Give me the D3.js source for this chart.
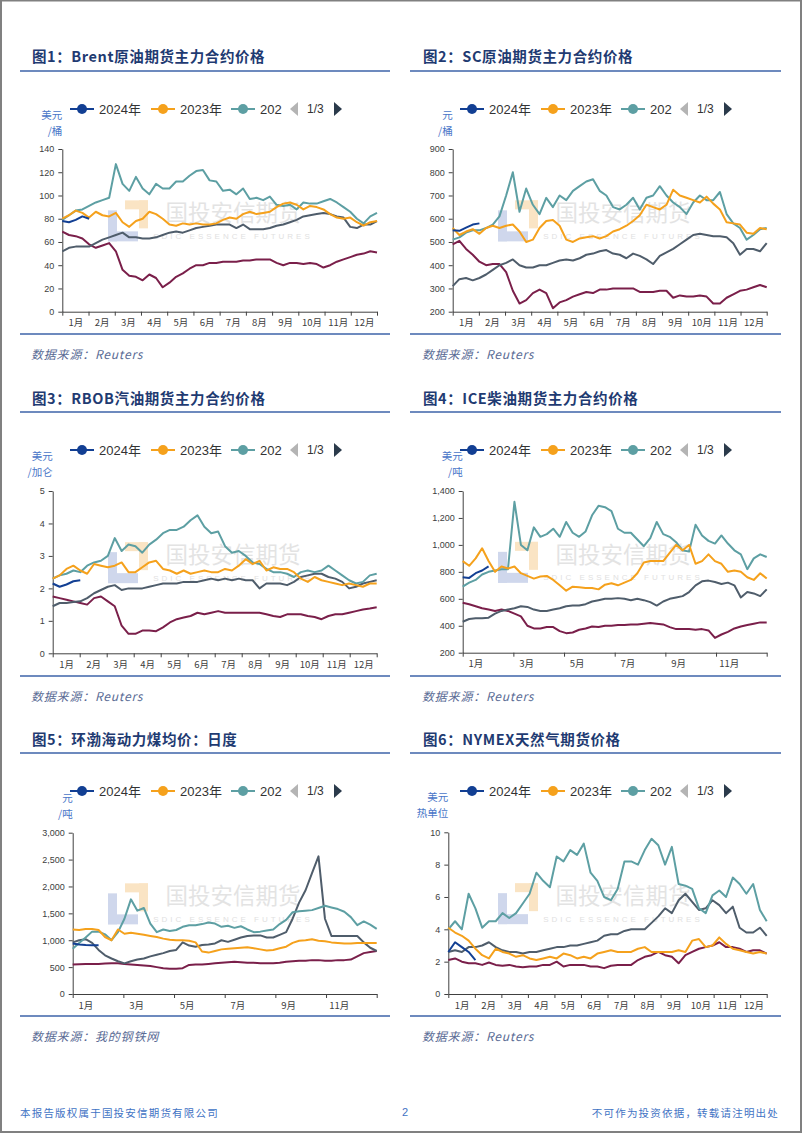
<!DOCTYPE html>
<html><head><meta charset="utf-8">
<script src="https://cdn.jsdelivr.net/npm/d3@7/dist/d3.min.js"></script>
<style>
html,body{margin:0;padding:0;background:#fff;}
svg{display:block;}
</style></head><body>
<svg id="page" width="802" height="1133"></svg>
<script>
// ---------- data ----------
const legendLabels = ["2024年", "2023年", "202"];
const seriesYears = ["2020", "2021", "2022", "2023", "2024"];
const monthLabels = ["1月","2月","3月","4月","5月","6月","7月","8月","9月","10月","11月","12月"];
const bimonthLabels = ["1月","3月","5月","7月","9月","11月"];

const brentTicks = [0,20,40,60,80,100,120,140];
const scTicks = [200,300,400,500,600,700,800,900];
const rbobTicks = [0,1,2,3,4,5];
const iceTicks = [200,400,600,800,1000,1200,1400];
const coalTicks = [0,500,1000,1500,2000,2500,3000];
const gasTicks = [0,2,4,6,8,10];

const brent2024 = [78,77,79,82,80];
const brent2023 = [80,83,87,85,81,86,83,82,85,77,73,78,80,86,84,80,75,74,76,75,76,75,75,76,79,81,80,84,86,84,85,86,90,93,94,92,88,91,90,88,84,81,80,81,77,74,77,78];
const brent2022 = [79,83,87,88,91,94,96,98,127,110,104,116,106,101,110,106,106,112,112,117,121,122,113,112,104,105,101,106,97,98,96,99,92,91,92,88,94,93,93,95,97,94,90,86,80,76,82,85];
const brent2021 = [52,55,56,56,56,59,62,64,66,68,64,64,63,63,64,66,68,69,68,70,72,73,74,75,75,75,72,75,71,71,71,72,74,75,77,79,82,83,84,85,84,82,81,73,72,75,75,78];
const brent2020 = [69,66,65,63,58,55,57,59,52,36,31,30,27,32,29,21,25,30,33,37,40,40,42,42,43,43,43,44,44,45,45,45,42,40,42,42,41,42,41,38,40,43,45,47,49,50,52,51];

const sc2024 = [550,548,562,575,580];
const sc2023 = [560,530,545,555,535,560,570,560,570,575,545,500,510,560,590,595,570,510,500,515,520,525,515,525,545,555,570,590,615,660,650,640,660,725,700,690,680,670,695,665,640,585,580,575,540,535,560,555];
const sc2022 = [510,520,540,550,550,560,575,610,700,800,630,730,660,620,690,650,700,680,720,740,760,770,720,700,650,640,660,690,640,690,700,740,700,670,650,620,670,700,680,680,715,620,580,560,510,530,555,560];
const sc2021 = [310,340,345,335,345,360,380,400,410,425,400,390,390,400,400,410,420,425,420,430,445,450,460,465,450,445,430,450,440,425,405,440,455,470,490,510,530,535,530,525,525,520,495,445,470,470,460,495];
const sc2020 = [490,505,470,445,415,400,405,405,370,290,235,250,280,295,280,215,240,250,265,275,285,280,295,295,300,300,300,300,285,285,285,290,290,260,270,265,265,270,265,235,235,260,275,290,295,305,315,305];

const rbob2024 = [2.15,2.05,2.12,2.22,2.25];
const rbob2023 = [2.3,2.4,2.6,2.7,2.55,2.45,2.75,2.7,2.65,2.7,2.8,2.5,2.5,2.65,2.8,2.85,2.6,2.55,2.45,2.55,2.45,2.5,2.55,2.5,2.5,2.6,2.55,2.7,2.9,2.75,2.85,2.55,2.65,2.6,2.6,2.5,2.3,2.2,2.35,2.25,2.2,2.15,2.1,2.15,2.1,2.05,2.15,2.15];
const rbob2022 = [2.3,2.4,2.45,2.55,2.5,2.7,2.8,2.85,3.0,3.55,3.15,3.35,3.3,3.1,3.35,3.5,3.7,3.8,3.8,3.9,4.1,4.25,3.9,3.7,3.75,3.3,3.1,3.15,3.0,2.8,2.75,2.6,2.5,2.5,2.45,2.35,2.5,2.55,2.5,2.55,2.7,2.55,2.4,2.25,2.15,2.2,2.4,2.45];
const rbob2021 = [1.45,1.55,1.55,1.58,1.6,1.7,1.85,1.95,2.05,2.1,1.95,2.0,2.0,2.0,2.05,2.1,2.15,2.15,2.15,2.2,2.2,2.2,2.25,2.3,2.25,2.3,2.25,2.3,2.25,2.25,2.0,2.15,2.15,2.15,2.1,2.2,2.35,2.4,2.45,2.45,2.35,2.3,2.2,2.0,2.05,2.15,2.2,2.25];
const rbob2020 = [1.75,1.7,1.65,1.6,1.55,1.5,1.7,1.75,1.6,1.45,0.85,0.6,0.6,0.7,0.7,0.68,0.8,0.95,1.05,1.1,1.15,1.25,1.2,1.25,1.3,1.25,1.25,1.25,1.25,1.25,1.25,1.2,1.15,1.12,1.2,1.2,1.2,1.15,1.12,1.05,1.15,1.2,1.2,1.25,1.3,1.35,1.38,1.42];

const ice2024 = [760,755,790,810,840];
const ice2023 = [880,845,900,975,880,800,840,825,840,790,770,750,765,770,740,700,660,690,685,680,680,670,705,715,700,720,740,790,870,880,880,880,940,1000,960,1000,860,880,930,880,860,800,810,800,760,740,790,750];
const ice2022 = [690,720,740,780,800,810,820,820,1320,1000,960,1130,1060,1080,1120,1060,1170,1090,1060,1100,1220,1290,1280,1250,1120,1090,1090,1040,990,1050,1170,1080,1060,1020,960,950,1150,1070,1030,1010,1070,1010,960,930,820,900,930,910];
const ice2021 = [430,450,455,455,460,490,510,520,530,545,540,520,510,510,520,530,545,550,550,560,580,590,600,600,605,600,590,600,590,575,550,580,600,610,620,650,700,730,735,725,710,720,700,610,650,640,620,670];
const ice2020 = [570,560,545,530,520,510,520,510,490,470,400,380,380,390,390,360,345,350,370,380,395,390,400,400,405,405,410,410,415,420,415,410,390,375,375,375,370,375,365,310,335,355,380,395,405,415,425,425];

const coal2024 = [940,920,910,905,905];
const coal2023 = [1200,1190,1210,1210,1190,1060,1000,1200,1120,1140,1120,1100,1080,1060,1030,1010,1000,1000,990,960,790,770,800,830,840,850,860,870,850,830,810,820,850,880,950,990,1000,1020,990,980,960,950,940,940,950,950,950,950];
const coal2022 = [840,950,1050,1160,1160,1110,1000,1150,1400,1760,1550,1600,1310,1150,1200,1170,1190,1250,1280,1280,1300,1330,1310,1250,1270,1230,1260,1200,1150,1160,1180,1200,1300,1380,1520,1540,1550,1560,1600,1640,1610,1580,1530,1430,1280,1350,1290,1210];
const coal2021 = [960,1000,1020,950,820,720,660,610,570,610,640,660,700,730,760,800,820,960,900,880,910,920,940,1000,970,1010,1050,1080,1090,1090,1050,1050,1100,1150,1400,1700,1930,2250,2560,1400,1080,1080,1080,1080,1080,960,860,800];
const coal2020 = [550,555,560,560,560,565,570,570,560,550,540,530,520,500,480,470,470,480,540,550,550,560,570,580,590,600,590,580,580,570,570,570,580,600,610,620,620,630,630,620,620,630,630,640,700,760,780,800];

const gas2024 = [2.6,3.2,2.9,2.6,2.1];
const gas2023 = [4.1,3.8,3.6,3.3,2.8,2.4,2.2,2.8,2.6,2.5,2.3,2.4,2.2,2.1,2.2,2.3,2.2,2.5,2.4,2.2,2.3,2.2,2.5,2.6,2.7,2.6,2.6,2.6,2.8,2.9,2.6,2.6,2.6,2.6,2.7,2.6,3.3,3.4,2.9,3.0,3.5,3.1,2.8,2.7,2.6,2.5,2.6,2.5];
const gas2022 = [4.0,4.5,4.0,6.2,5.3,4.1,4.5,4.5,5.0,4.7,5.0,5.6,6.2,7.5,7.0,6.6,8.5,8.2,8.9,8.6,9.3,7.5,7.0,6.0,5.8,6.5,8.2,8.2,8.0,8.9,9.6,9.2,8.0,9.1,6.8,6.7,6.5,5.3,5.0,6.1,6.4,6.0,7.2,6.8,6.2,6.8,5.2,4.5];
const gas2021 = [2.6,2.7,2.6,2.9,2.9,3.0,3.2,2.9,2.7,2.6,2.6,2.5,2.6,2.6,2.7,2.8,2.9,2.9,3.0,3.0,3.1,3.2,3.3,3.6,3.7,3.7,3.9,4.0,4.0,4.0,4.4,4.8,5.3,5.0,5.8,6.2,5.7,5.2,5.3,5.8,5.5,5.0,5.4,4.1,3.8,3.8,4.1,3.6];
const gas2020 = [2.1,2.2,2.0,1.9,1.9,1.8,1.95,1.8,1.75,1.8,1.7,1.65,1.7,1.7,1.8,1.8,2.0,1.7,1.8,1.8,1.8,1.7,1.7,1.6,1.75,1.8,1.8,1.8,2.1,2.3,2.4,2.6,2.4,2.3,1.9,2.4,2.6,2.8,2.9,3.0,3.2,2.9,2.9,2.8,2.6,2.7,2.7,2.5];

// ---------- styles ----------
const seriesColor = {"2024":"#123f93","2023":"#f5a11c","2022":"#5d9fa3","2021":"#4f5d6b","2020":"#7a1f4a"};
const SAMPLES = 47; // intervals across the year for the sampled readings
const FONT = "'Liberation Sans','Noto Sans CJK SC',sans-serif";
const CJK = "'Noto Sans CJK SC','Liberation Sans',sans-serif";

const svg = d3.select("#page");

// page border
svg.append("rect").attr("x",1).attr("y",0.5).attr("width",800).attr("height",1131.5)
  .attr("fill","none").attr("stroke","#808080").attr("stroke-width",2);

const panels = [
  {ox:0, title:"图1：Brent原油期货主力合约价格", unit:["美元","/桶"], source:"数据来源：Reuters",
   left:62.3, right:377, top:149, bottom:311.7, titleY:55, lineTop:71, lineBot:334, legendY:109, unitY:122.5, sourceY:353,
   domain:[0,140], ticks:brentTicks, mode:"m",
   data:{"2024":brent2024,"2023":brent2023,"2022":brent2022,"2021":brent2021,"2020":brent2020}},
  {ox:390, title:"图2：SC原油期货主力合约价格", unit:["元","/桶"], source:"数据来源：Reuters",
   left:452.7, right:766.7, top:149, bottom:311.7, titleY:55, lineTop:71, lineBot:334, legendY:109, unitY:122.5, sourceY:353,
   domain:[200,900], ticks:scTicks, mode:"m",
   data:{"2024":sc2024,"2023":sc2023,"2022":sc2022,"2021":sc2021,"2020":sc2020}},
  {ox:0, title:"图3：RBOB汽油期货主力合约价格", unit:["美元","/加仑"], source:"数据来源：Reuters",
   left:52.7, right:376.7, top:491, bottom:653.3, titleY:397, lineTop:412, lineBot:676, legendY:450, unitY:463.5, sourceY:695,
   domain:[0,5], ticks:rbobTicks, mode:"m",
   data:{"2024":rbob2024,"2023":rbob2023,"2022":rbob2022,"2021":rbob2021,"2020":rbob2020}},
  {ox:390, title:"图4：ICE柴油期货主力合约价格", unit:["美元","/吨"], source:"数据来源：Reuters",
   left:462.7, right:766.7, top:491, bottom:652.7, titleY:397, lineTop:412, lineBot:676, legendY:450, unitY:463.5, sourceY:695,
   domain:[200,1400], ticks:iceTicks, mode:"b",
   data:{"2024":ice2024,"2023":ice2023,"2022":ice2022,"2021":ice2021,"2020":ice2020}},
  {ox:0, title:"图5：环渤海动力煤均价：日度", unit:["元","/吨"], source:"数据来源：我的钢铁网",
   left:72.7, right:376.7, top:832.7, bottom:994, titleY:738, lineTop:753, lineBot:1016, legendY:791, unitY:805.5, sourceY:1035,
   domain:[0,3000], ticks:coalTicks, mode:"b",
   data:{"2024":coal2024,"2023":coal2023,"2022":coal2022,"2021":coal2021,"2020":coal2020}},
  {ox:390, title:"图6：NYMEX天然气期货价格", unit:["美元","热单位"], source:"数据来源：Reuters",
   left:448.3, right:766.7, top:832.3, bottom:994, titleY:738, lineTop:753, lineBot:1016, legendY:791, unitY:804.5, sourceY:1035,
   domain:[0,10], ticks:gasTicks, mode:"m",
   data:{"2024":gas2024,"2023":gas2023,"2022":gas2022,"2021":gas2021,"2020":gas2020}}
];

function drawPanel(p){
  const g = svg.append("g");
  const ox = p.ox;
  const titleX = ox===0 ? 32 : 423;
  const legendX = ox===0 ? 70 : 460;
  const ruleX0 = ox===0 ? 20 : 410, ruleX1 = ox===0 ? 390 : 781;

  // title
  g.append("text").attr("x",titleX).attr("y",p.titleY).attr("dominant-baseline","central")
    .attr("font-family",CJK).attr("font-weight",700).attr("font-size",14.5)
    .attr("letter-spacing",0.6).attr("fill","#1f3b72").text(p.title);
  // rules
  [p.lineTop,p.lineBot].forEach(yy=>{
    g.append("line").attr("x1",ruleX0).attr("x2",ruleX1).attr("y1",yy).attr("y2",yy)
      .attr("stroke","#3d63a8").attr("stroke-width",1.5);
  });
  // source
  g.append("text").attr("x",titleX-1).attr("y",p.sourceY).attr("dominant-baseline","central")
    .attr("font-family",CJK).attr("font-size",12).attr("font-style","italic")
    .attr("letter-spacing",0.8).attr("fill","#5a6b95").text(p.source);

  // watermark
  const cy = (p.top+p.bottom)/2;
  const wm = g.append("g").attr("opacity",0.55);
  const wx = ox + 108;
  wm.append("rect").attr("x",wx).attr("y",cy-20).attr("width",9).attr("height",31).attr("fill","#a9b8de");
  wm.append("rect").attr("x",wx).attr("y",cy+1).attr("width",30).attr("height",10).attr("fill","#a9b8de");
  wm.append("rect").attr("x",wx+17).attr("y",cy-30).attr("width",23).attr("height",9).attr("fill","#f7cf95");
  wm.append("rect").attr("x",wx+31).attr("y",cy-30).attr("width",9).attr("height",28).attr("fill","#f7cf95");
  wm.append("text").attr("x",ox+233).attr("y",cy-19).attr("text-anchor","middle").attr("dominant-baseline","central")
    .attr("font-family",CJK).attr("font-size",22.5).attr("fill","#bdbdbd").attr("opacity",0.75).text("国投安信期货");
  wm.append("text").attr("x",ox+233).attr("y",cy+6).attr("text-anchor","middle").attr("dominant-baseline","central")
    .attr("font-family",FONT).attr("font-size",8).attr("letter-spacing",3).attr("fill","#c8c8c8").text("SDIC ESSENCE FUTURES");

  // unit (two stacked lines)
  p.unit.forEach((u,i)=>{
    g.append("text").attr("text-anchor","end").attr("x",p.left).attr("y",p.unitY + (i-0.5)*15.5)
      .attr("dominant-baseline","central")
      .attr("font-family",CJK).attr("font-size",10.5).attr("fill","#4a76c8").text(u);
  });

  // legend
  const lg = g.append("g").attr("transform",`translate(${legendX},${p.legendY})`);
  const legColors = [seriesColor["2024"],seriesColor["2023"],seriesColor["2022"]];
  [0,81,161].forEach((off,i)=>{
    lg.append("line").attr("x1",off).attr("x2",off+24).attr("y1",0).attr("y2",0).attr("stroke",legColors[i]).attr("stroke-width",2);
    lg.append("circle").attr("cx",off+12).attr("cy",0).attr("r",5).attr("fill",legColors[i]);
    lg.append("text").attr("x",off+29).attr("y",0).attr("dominant-baseline","central")
      .attr("font-family",FONT).attr("font-size",13).attr("fill","#333").text(legendLabels[i]);
  });
  lg.append("path").attr("d","M228,-7L228,7L220,0Z").attr("fill","#b4b4b4");
  lg.append("text").attr("x",237).attr("y",0).attr("dominant-baseline","central")
    .attr("font-family",FONT).attr("font-size",12).attr("fill","#333").text("1/3");
  lg.append("path").attr("d","M264,-7L264,7L272,0Z").attr("fill","#2b3a4b");

  // scales
  const x = d3.scaleLinear().domain([0,12]).range([p.left,p.right]);
  const y = d3.scaleLinear().domain(p.domain).range([p.bottom,p.top]);

  // axes
  const ya = g.append("g").attr("transform",`translate(${p.left},0)`)
    .call(d3.axisLeft(y).tickValues(p.ticks).tickSize(4).tickSizeOuter(0).tickPadding(4).tickFormat(d3.format(",")));
  ya.selectAll("text").attr("font-family",FONT).attr("font-size",9).attr("fill","#404040");
  ya.selectAll("line,path").attr("stroke","#404040");

  const step = p.mode==="m" ? 1 : 2;
  const labels = p.mode==="m" ? monthLabels : bimonthLabels;
  const bounds = d3.range(0,12+step,step);
  const centers = labels.map((_,i)=>i*step+0.5);
  const xa = g.append("g").attr("transform",`translate(0,${p.bottom})`)
    .call(d3.axisBottom(x).tickValues(bounds).tickSize(4).tickSizeOuter(0).tickFormat(""));
  xa.selectAll("line,path").attr("stroke","#404040");
  const xl = g.append("g").attr("transform",`translate(0,${p.bottom})`)
    .call(d3.axisBottom(x).tickValues(centers).tickSize(0).tickPadding(8).tickFormat((d,i)=>labels[i]));
  xl.select(".domain").remove();
  xl.selectAll("text").attr("font-family",CJK).attr("font-size",9.5).attr("fill","#404040");

  // lines
  const line = d3.line().x((d,i)=>x(i*12/SAMPLES)).y(d=>y(d)).curve(d3.curveLinear);
  seriesYears.forEach(yr=>{
    g.append("path").datum(p.data[yr]).attr("d",line).attr("fill","none")
      .attr("stroke",seriesColor[yr]).attr("stroke-width",2).attr("stroke-linejoin","round");
  });
}
panels.forEach(drawPanel);

// footer
svg.append("text").attr("x",20).attr("y",1112).attr("dominant-baseline","central")
  .attr("font-family",CJK).attr("font-size",10.5).attr("letter-spacing",1.2).attr("fill","#3f73c4").text("本报告版权属于国投安信期货有限公司");
svg.append("text").attr("x",405).attr("y",1112).attr("text-anchor","middle").attr("dominant-baseline","central")
  .attr("font-family",FONT).attr("font-size",11).attr("fill","#3f73c4").text("2");
svg.append("text").attr("x",779).attr("y",1112).attr("text-anchor","end").attr("dominant-baseline","central")
  .attr("font-family",CJK).attr("font-size",10.5).attr("letter-spacing",1.2).attr("fill","#3f73c4").text("不可作为投资依据，转载请注明出处");
</script>
</body></html>
